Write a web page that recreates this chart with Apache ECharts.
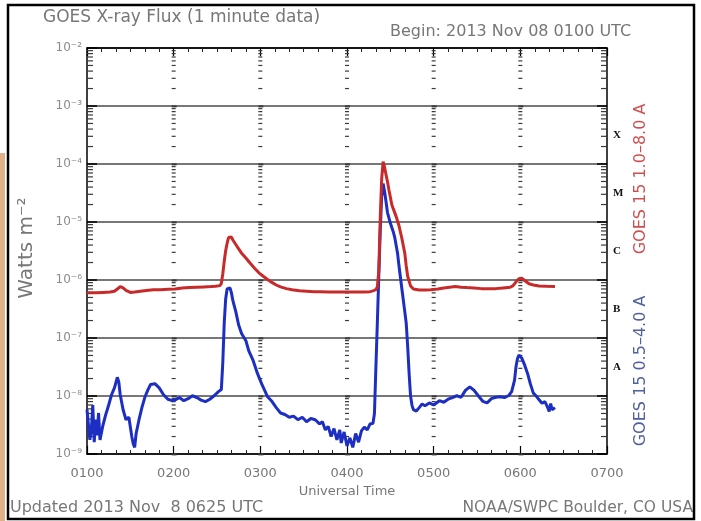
<!DOCTYPE html>
<html>
<head>
<meta charset="utf-8">
<script src="https://cdn.jsdelivr.net/npm/echarts@6/dist/echarts.min.js"></script>
<style>
  html, body { margin: 0; padding: 0; background: #fff; }
  #chart { width: 701px; height: 521px; }
</style>
</head>
<body>
<div id="chart"></div>
<script>
// Time axis: minutes after 0000 UTC, 2013 Nov 08
const xTickValues = [60, 120, 180, 240, 300, 360, 420];
const xTickLabels = ['0100', '0200', '0300', '0400', '0500', '0600', '0700'];
// Flux axis decade labels, 10^-9 .. 10^-2 W m^-2
const yTickLabels = ['10⁻⁹', '10⁻⁸', '10⁻⁷', '10⁻⁶', '10⁻⁵', '10⁻⁴', '10⁻³', '10⁻²'];
// Flare classes (lower bound of each decade)
const classLetters = ['A', 'B', 'C', 'M', 'X'];
const classFloor = [1e-8, 1e-7, 1e-6, 1e-5, 1e-4];

// GOES 15 long channel, 1.0-8.0 A
const redMinute = [60, 66, 71, 76, 79, 81, 83, 85, 87, 90, 93, 97, 101, 106, 111, 116, 121, 126, 131, 136,
  141, 146, 149, 152, 153, 154, 155, 156, 157, 158, 159, 160, 161, 163, 165, 167, 170, 173, 176, 179,
  182, 185, 188, 191, 194, 198, 202, 207, 212, 217, 222, 227, 232, 237, 242, 247, 252, 256, 258, 260,
  261, 262, 263, 264, 265, 266, 267, 268, 269, 270, 271, 272, 274, 276, 278, 280, 281, 282, 284, 286,
  290, 294, 298, 303, 307, 311, 315, 319, 323, 328, 333, 338, 343, 348, 353, 355, 357, 359, 361, 363,
  366, 369, 373, 378, 384];
const redFlux = [6.0e-7, 6.0e-7, 6.1e-7, 6.2e-7, 6.4e-7, 7.0e-7, 7.7e-7, 7.3e-7, 6.6e-7, 6.1e-7,
  6.2e-7, 6.4e-7, 6.6e-7, 6.8e-7, 6.8e-7, 6.9e-7, 7.0e-7, 7.3e-7, 7.4e-7, 7.5e-7,
  7.6e-7, 7.7e-7, 7.8e-7, 8.0e-7, 8.7e-7, 1.27e-6, 2.1e-6, 3.2e-6, 4.3e-6, 5.4e-6,
  5.7e-6, 5.5e-6, 4.9e-6, 4.1e-6, 3.45e-6, 2.9e-6, 2.4e-6, 1.95e-6, 1.6e-6, 1.33e-6,
  1.16e-6, 1.02e-6, 9.1e-7, 8.2e-7, 7.6e-7, 7.1e-7, 6.8e-7, 6.5e-7, 6.4e-7, 6.3e-7,
  6.3e-7, 6.2e-7, 6.2e-7, 6.2e-7, 6.2e-7, 6.2e-7, 6.2e-7, 6.3e-7, 6.5e-7, 6.8e-7,
  7.6e-7, 1.4e-6, 1.12e-5, 5.5e-5, 1.1e-4, 8.8e-5, 6.6e-5, 5.0e-5, 3.6e-5, 2.7e-5,
  2.0e-5, 1.7e-5, 1.25e-5, 8.6e-6, 5.2e-6, 2.9e-6, 1.75e-6, 1.16e-6, 7.9e-7, 7.0e-7,
  6.7e-7, 6.7e-7, 6.8e-7, 7.0e-7, 7.3e-7, 7.5e-7, 7.7e-7, 7.5e-7, 7.4e-7, 7.3e-7,
  7.1e-7, 7.1e-7, 7.1e-7, 7.3e-7, 7.5e-7, 8.0e-7, 9.3e-7, 1.05e-6, 1.07e-6, 9.8e-7,
  8.6e-7, 8.2e-7, 7.9e-7, 7.8e-7, 7.7e-7];

// GOES 15 short channel, 0.5-4.0 A
const blueMinute = [60, 62, 63, 64, 65, 66, 67, 68, 69, 71, 73, 75, 77, 79, 81, 82, 83, 85, 87, 89,
  91, 92, 93, 94, 96, 98, 100, 102, 104, 107, 110, 113, 116, 119, 121, 124, 127, 130, 133, 136,
  139, 142, 145, 148, 151, 153, 154, 155, 156, 157, 158, 159, 160, 161, 163, 165, 167, 170, 172, 175,
  178, 181, 183, 185, 188, 191, 194, 197, 200, 203, 206, 209, 212, 215, 218, 221, 223, 225, 227, 229,
  231, 233, 235, 236, 238, 240, 242, 244, 246, 248, 250, 252, 254, 256, 258, 259, 260, 261, 262, 263,
  264, 265, 266, 267, 268, 270, 272, 273, 275, 276, 278, 280, 281, 282, 283, 284, 285, 286, 288, 290,
  292, 294, 297, 300, 304, 307, 310, 313, 316, 319, 322, 325, 328, 331, 334, 337, 340, 343, 346, 349,
  352, 354, 356, 357, 358, 359, 360, 361, 363, 365, 367, 369, 371, 373, 375, 377, 379, 380, 381, 382,
  384];
const blueFlux = [5.8e-9, 1.75e-9, 2.6e-9, 7.0e-9, 1.6e-9, 3.9e-9, 2.1e-9, 5.1e-9, 1.75e-9, 3.1e-9,
  4.8e-9, 7.0e-9, 1.05e-8, 1.38e-8, 2.1e-8, 1.75e-8, 1.05e-8, 5.8e-9, 3.9e-9, 4.3e-9,
  2.0e-9, 1.5e-9, 1.3e-9, 2.25e-9, 3.9e-9, 6.3e-9, 9.4e-9, 1.25e-8, 1.58e-8, 1.63e-8,
  1.38e-8, 1.05e-8, 8.8e-9, 8.3e-9, 8.6e-9, 9.4e-9, 8.3e-9, 9.0e-9, 1.01e-8, 9.4e-9,
  8.5e-9, 8.0e-9, 8.8e-9, 1.01e-8, 1.19e-8, 1.29e-8, 3.7e-8, 1.8e-7, 4.7e-7, 7.0e-7,
  7.5e-7, 7.3e-7, 6.0e-7, 4.4e-7, 2.85e-7, 1.67e-7, 1.2e-7, 9.0e-8, 6.0e-8, 4.1e-8,
  2.45e-8, 1.6e-8, 1.25e-8, 9.7e-9, 8.1e-9, 6.3e-9, 5.1e-9, 4.8e-9, 4.3e-9, 4.5e-9,
  3.9e-9, 4.3e-9, 3.6e-9, 4.1e-9, 3.9e-9, 3.3e-9, 3.6e-9, 2.6e-9, 3.0e-9, 2.0e-9,
  2.75e-9, 1.75e-9, 2.6e-9, 1.55e-9, 2.4e-9, 1.38e-9, 1.9e-9, 1.3e-9, 2.25e-9, 1.6e-9,
  2.5e-9, 2.9e-9, 2.6e-9, 3.3e-9, 3.4e-9, 5.0e-9, 3.1e-8, 1.8e-7, 1.16e-6, 6.8e-6,
  2.8e-5, 4.6e-5, 3.35e-5, 2.25e-5, 1.47e-5, 9.6e-6, 6.8e-6, 5.5e-6, 2.9e-6, 1.74e-6,
  7.0e-7, 2.85e-7, 1.8e-7, 7.2e-8, 2.45e-8, 1.0e-8, 6.9e-9, 5.8e-9, 5.5e-9, 6.3e-9,
  7.3e-9, 6.8e-9, 7.6e-9, 7.0e-9, 8.3e-9, 7.8e-9, 8.8e-9, 9.4e-9, 1.01e-8, 9.5e-9,
  1.25e-8, 1.44e-8, 1.25e-8, 1.0e-8, 8.1e-9, 7.6e-9, 9.0e-9, 9.5e-9, 9.7e-9, 9.4e-9,
  1.02e-8, 1.19e-8, 1.88e-8, 3.2e-8, 4.4e-8, 5.1e-8, 4.9e-8, 4.5e-8, 3.4e-8, 2.45e-8,
  1.6e-8, 1.12e-8, 1.0e-8, 8.6e-9, 7.5e-9, 8.0e-9, 6.3e-9, 5.4e-9, 7.4e-9, 5.8e-9,
  6.3e-9];

const X_MIN = xTickValues[0];
const X_MAX = xTickValues[xTickValues.length - 1];
const Y_MIN = 1e-9;
const Y_MAX = 1e-2;

// Log minor tick positions (2..9 x 10^k) repeated along every hour column
const hourTickData = [];
for (const h of xTickValues) {
  for (let k = -9; k < -2; k++) {
    for (let m = 2; m <= 9; m++) {
      hourTickData.push([h, m * Math.pow(10, k), 0]);
    }
    if (h !== X_MIN && h !== X_MAX) hourTickData.push([h, Math.pow(10, k), 1]);
  }
}

const classData = classLetters.map((c, i) => [X_MAX, classFloor[i] * Math.sqrt(10), i]);

const grey = '#777777';
const font = '"DejaVu Sans", "Liberation Sans", sans-serif';

function renderHourTick(params, api) {
  const x = api.value(0);
  const v = api.value(1);
  const major = api.value(2);
  const p = api.coord([x, v]);
  let x0, w;
  if (x === X_MIN) { x0 = p[0]; w = 6; }
  else if (x === X_MAX) { x0 = p[0] - 6; w = 6; }
  else { x0 = p[0] - 2; w = major ? 5 : 4; }
  return {
    type: 'rect',
    shape: { x: x0, y: p[1] - 0.6, width: w, height: major ? 2 : 1.2 },
    style: { fill: '#3a3a3a' }
  };
}

function renderClass(params, api) {
  const p = api.coord([api.value(0), api.value(1)]);
  return {
    type: 'text',
    x: p[0] + 6,
    y: p[1],
    style: {
      text: classLetters[api.value(2)],
      fill: '#111',
      font: 'bold 11px "Liberation Serif", "DejaVu Serif", serif',
      verticalAlign: 'middle',
      align: 'left'
    }
  };
}

const chart = echarts.init(document.getElementById('chart'), null, { renderer: 'canvas' });

const axisLine = { show: true, lineStyle: { color: '#000', width: 1.5 } };

chart.setOption({
  animation: false,
  backgroundColor: '#fff',
  grid: { left: 87, right: 94, top: 48, bottom: 67, containLabel: false },
  xAxis: [
    {
      type: 'value', min: X_MIN, max: X_MAX, interval: 60, position: 'bottom',
      axisLine: axisLine,
      axisTick: { show: true, inside: true, length: 8, lineStyle: { color: '#000', width: 1.2 } },
      minorTick: { show: true, splitNumber: 6, length: 4, lineStyle: { color: '#222', width: 1 } },
      splitLine: { show: false },
      axisLabel: {
        margin: 13, color: grey, fontSize: 13, fontFamily: font,
        formatter: v => { const i = xTickValues.indexOf(v); return i >= 0 ? xTickLabels[i] : ''; }
      },
      name: 'Universal Time', nameLocation: 'middle', nameGap: 30,
      nameTextStyle: { color: grey, fontSize: 13, fontFamily: font }
    },
    {
      type: 'value', min: X_MIN, max: X_MAX, interval: 60, position: 'top',
      axisLine: axisLine,
      axisTick: { show: true, inside: true, length: 8, lineStyle: { color: '#000', width: 1.2 } },
      minorTick: { show: true, splitNumber: 6, length: 4, lineStyle: { color: '#222', width: 1 } },
      splitLine: { show: false },
      axisLabel: { show: false }
    }
  ],
  yAxis: [
    {
      type: 'log', logBase: 10, min: Y_MIN, max: Y_MAX, splitNumber: 7, position: 'left',
      axisLine: axisLine,
      axisTick: { show: true, inside: true, length: 10, lineStyle: { color: '#000', width: 1.5 } },
      splitLine: { show: true, lineStyle: { color: '#4a4a4a', width: 1.5 } },
      axisLabel: {
        margin: 5, color: '#8c8c8c', fontSize: 12, fontFamily: font,
        formatter: v => {
          const e = Math.round(Math.log10(v));
          return yTickLabels[e + 9] || '';
        }
      }
    },
    {
      type: 'log', logBase: 10, min: Y_MIN, max: Y_MAX, splitNumber: 7, position: 'right',
      axisLine: axisLine,
      axisTick: { show: true, inside: true, length: 10, lineStyle: { color: '#000', width: 1.5 } },
      splitLine: { show: false },
      axisLabel: { show: false }
    }
  ],
  series: [
    {
      type: 'custom', name: 'hour ticks', coordinateSystem: 'cartesian2d',
      xAxisIndex: 0, yAxisIndex: 0, silent: true, z: 1, clip: false,
      renderItem: renderHourTick, data: hourTickData
    },
    {
      type: 'custom', name: 'classes', coordinateSystem: 'cartesian2d',
      xAxisIndex: 0, yAxisIndex: 0, silent: true, z: 5, clip: false,
      renderItem: renderClass, data: classData
    },
    {
      type: 'line', name: 'GOES 15 0.5–4.0 A', xAxisIndex: 0, yAxisIndex: 0, z: 3,
      data: blueMinute.map((m, i) => [m, blueFlux[i]]),
      showSymbol: false, symbol: 'none',
      lineStyle: { color: '#1c2fc2', width: 3 }, itemStyle: { color: '#1c2fc2' }
    },
    {
      type: 'line', name: 'GOES 15 1.0–8.0 A', xAxisIndex: 0, yAxisIndex: 0, z: 4,
      data: redMinute.map((m, i) => [m, redFlux[i]]),
      showSymbol: false, symbol: 'none',
      lineStyle: { color: '#c82a2a', width: 3 }, itemStyle: { color: '#c82a2a' }
    }
  ],
  graphic: [
    { type: 'rect', shape: { x: 0, y: 153, width: 5, height: 368 }, style: { fill: '#e0b088' }, z: 50 },
    { type: 'rect', shape: { x: 8, y: 5, width: 686, height: 514 }, style: { fill: 'none', stroke: '#000', lineWidth: 2.5 }, z: 100 },
    { type: 'text', x: 43, y: 18, z: 60,
      style: { text: 'GOES X-ray Flux (1 minute data)', fill: '#777', font: '17px ' + font, verticalAlign: 'middle' } },
    { type: 'text', x: 390, y: 32, z: 60,
      style: { text: 'Begin: 2013 Nov 08 0100 UTC', fill: '#777', font: '16px ' + font, verticalAlign: 'middle' } },
    { type: 'text', x: 10, y: 508, z: 60,
      style: { text: 'Updated 2013 Nov  8 0625 UTC', fill: '#777', font: '16px ' + font, verticalAlign: 'middle' } },
    { type: 'text', x: 693, y: 508, z: 60,
      style: { text: 'NOAA/SWPC Boulder, CO USA', fill: '#777', font: '15.5px ' + font, align: 'right', verticalAlign: 'middle' } },
    { type: 'text', x: 27, y: 248, rotation: Math.PI / 2, z: 60,
      style: { text: 'Watts m⁻²', fill: '#777', font: '20px ' + font, align: 'center', verticalAlign: 'middle' } },
    { type: 'text', x: 641, y: 179, rotation: Math.PI / 2, z: 60,
      style: { text: 'GOES 15 1.0–8.0 A', fill: '#d05050', font: '16px ' + font, align: 'center', verticalAlign: 'middle' } },
    { type: 'text', x: 641, y: 371, rotation: Math.PI / 2, z: 60,
      style: { text: 'GOES 15 0.5–4.0 A', fill: '#50609f', font: '16px ' + font, align: 'center', verticalAlign: 'middle' } }
  ]
});
</script>
</body>
</html>
